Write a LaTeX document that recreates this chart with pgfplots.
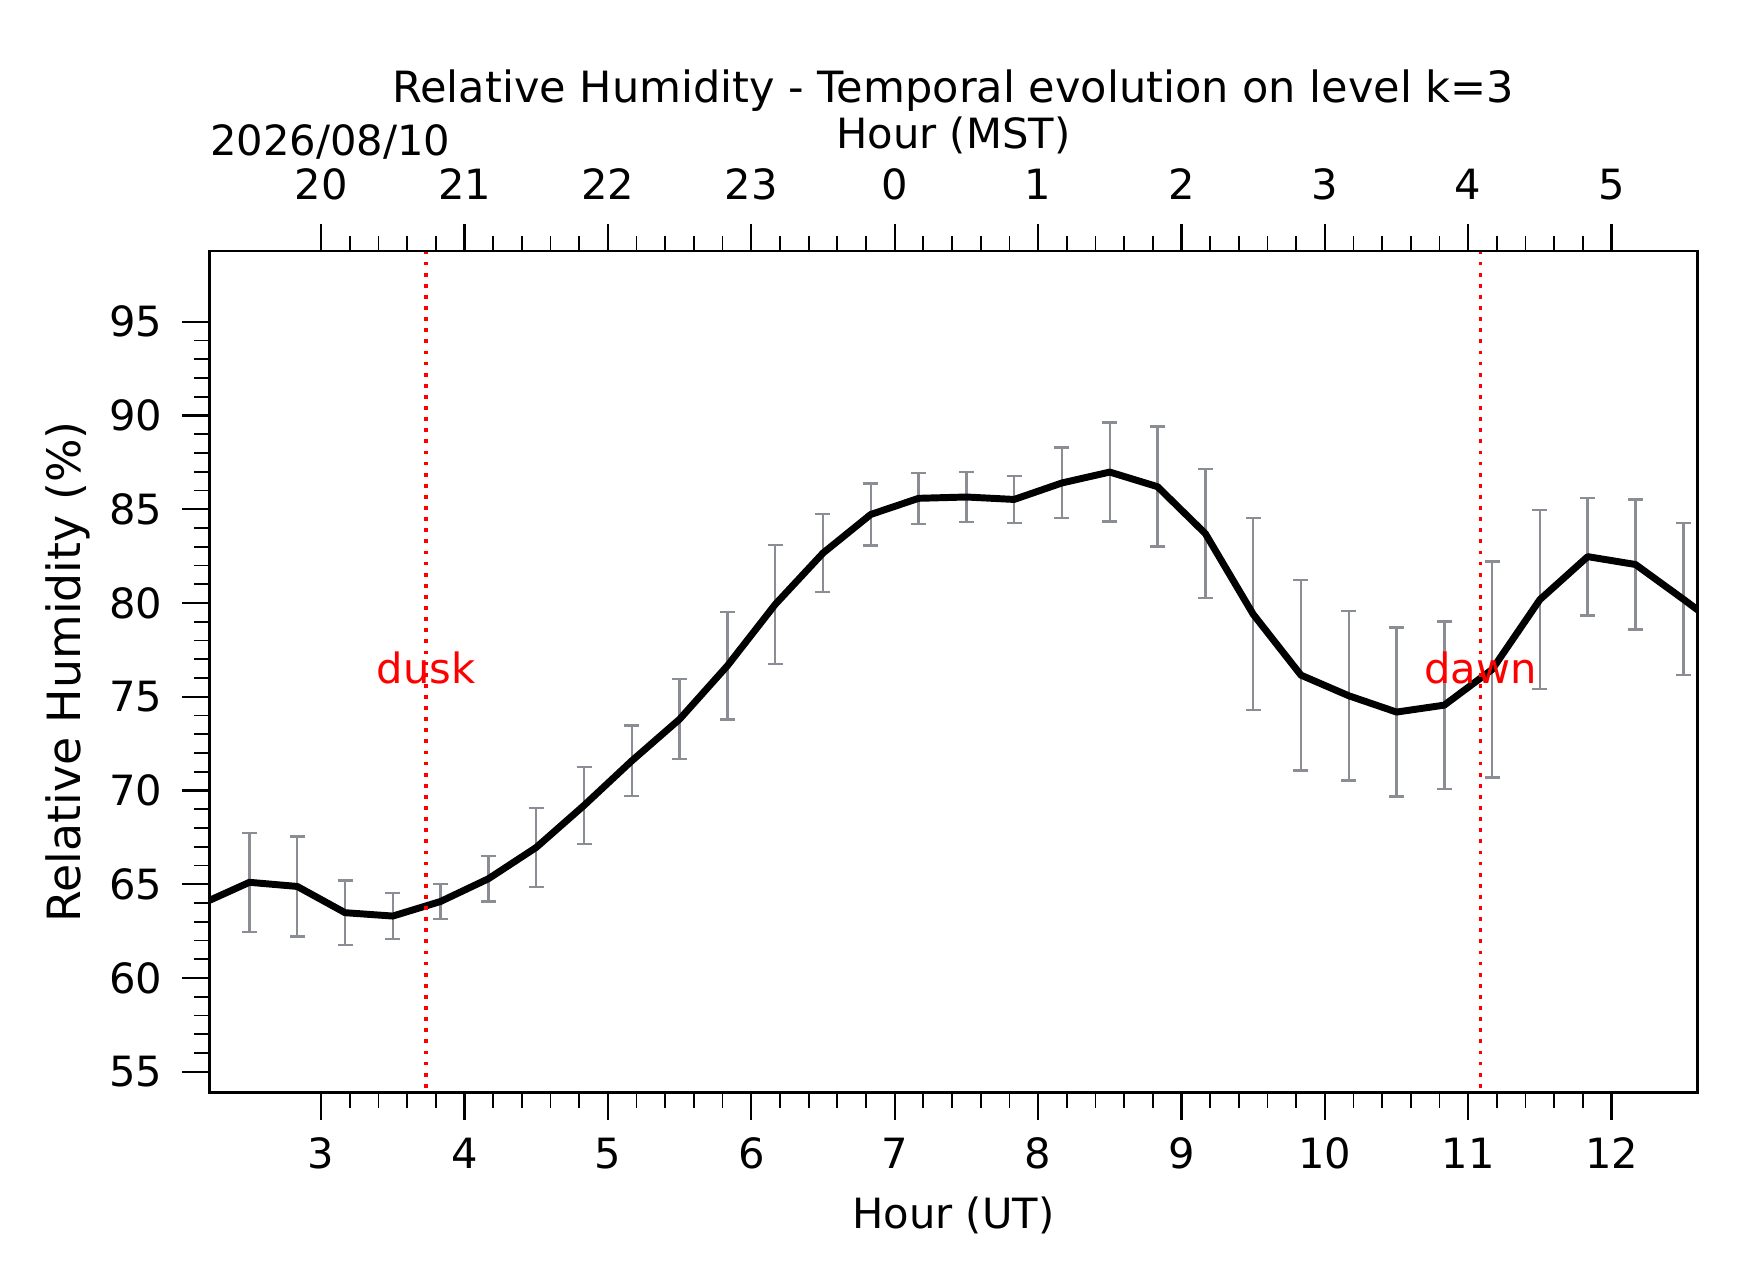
\documentclass[border=0pt]{standalone}
\usepackage{fontspec}
\setmainfont{DejaVu Sans}
\usepackage{pgfplots}
\pgfplotsset{compat=1.18}
\usepackage{pgfplotstable}
\definecolor{errgray}{RGB}{138,141,147}

\pgfplotstableread{
x y
2.1667 63.95
2.5 65.10
2.8333 64.88
3.1667 63.48
3.5 63.30
3.8333 64.08
4.1667 65.29
4.5 66.96
4.8333 69.20
5.1667 71.58
5.5 73.80
5.8333 76.65
6.1667 79.92
6.5 82.66
6.8333 84.72
7.1667 85.58
7.5 85.65
7.8333 85.52
8.1667 86.40
8.5 86.98
8.8333 86.20
9.1667 83.70
9.5 79.40
9.8333 76.15
10.1667 75.05
10.5 74.18
10.8333 74.55
11.1667 76.45
11.5 80.18
11.8333 82.47
12.1667 82.05
12.5 80.20
12.8333 78.30
}\linetab

\pgfplotstableread{
x y e
2.5 65.10 2.64
2.8333 64.88 2.67
3.1667 63.48 1.71
3.5 63.30 1.22
3.8333 64.08 0.93
4.1667 65.29 1.22
4.5 66.96 2.10
4.8333 69.20 2.05
5.1667 71.58 1.88
5.5 73.80 2.13
5.8333 76.65 2.87
6.1667 79.92 3.17
6.5 82.66 2.07
6.8333 84.72 1.66
7.1667 85.58 1.36
7.5 85.65 1.34
7.8333 85.52 1.25
8.1667 86.40 1.88
8.5 86.98 2.64
8.8333 86.20 3.20
9.1667 83.70 3.44
9.5 79.40 5.12
9.8333 76.15 5.08
10.1667 75.05 4.52
10.5 74.18 4.50
10.8333 74.55 4.46
11.1667 76.45 5.76
11.5 80.18 4.77
11.8333 82.47 3.14
12.1667 82.05 3.46
12.5 80.20 4.05
}\errtab

\begin{document}
\begin{tikzpicture}[font=\fontsize{12}{14}\selectfont]
\pgfplotsset{
 common/.style={
  at={(0,0)}, anchor=south west,
  scale only axis, width=428.5pt, height=242.4pt,
  xmin=2.2205, xmax=12.597,
  tick align=outside,
  major tick length=7.8pt, minor tick length=4.3pt,
  major tick style={black, line width=0.65pt},
  minor tick style={black, line width=0.5pt},
  axis line style={black, line width=0.75pt},
  minor x tick num=4,
  xtick={3,...,12},
  /pgf/number format/assume math mode=true,
 }
}
\begin{axis}[common,
  ymin=53.88, ymax=98.77,
  ytick={55,60,...,95}, minor y tick num=4,
  xtick pos=left, ytick pos=left,
  xticklabel style={anchor=base, inner sep=0pt, yshift=-14.1pt},
  yticklabel style={anchor=east, inner sep=0pt, xshift=-5.5pt},
]
\addplot[draw=none, mark=none, forget plot,
  error bars/.cd, y dir=both, y explicit, error mark=-,
  error bar style={draw=errgray, line width=0.7pt, solid},
  error mark options={rotate=90, draw=errgray, line width=0.7pt, mark size=2.16pt}]
  table[x=x, y=y, y error=e] {\errtab};
\addplot[black, line width=2pt, line join=round, mark=none] table[x=x, y=y] {\linetab};
\addplot[red, line width=1.1pt, dash pattern=on 1.1pt off 2.1pt, forget plot] coordinates {(3.733,50) (3.733,100)};
\addplot[red, line width=1.1pt, dash pattern=on 1.1pt off 2.1pt, forget plot] coordinates {(11.085,50) (11.085,100)};
\node[red, anchor=base, inner sep=0pt] at (axis cs:3.733,75.72) {dusk};
\node[red, anchor=base, inner sep=0pt] at (axis cs:11.085,75.72) {dawn};
\end{axis}
\begin{axis}[common,
  ymin=0, ymax=1,
  axis x line*=top, axis y line=none,
  xticklabels={20,21,22,23,0,1,2,3,4,5},
  xticklabel style={anchor=base, inner sep=0pt, yshift=6.9pt},
]
\end{axis}
\node[anchor=base, inner sep=0pt, font=\fontsize{12.4}{14}\selectfont] at (214.25pt,285.3pt) {Relative Humidity - Temporal evolution on level k=3};
\node[anchor=base, inner sep=0pt] at (214.25pt,271.8pt) {Hour (MST)};
\node[anchor=base west, inner sep=0pt] at (0pt,269.8pt) {2026/08/10};
\node[anchor=base, inner sep=0pt] at (214.25pt,-39.2pt) {Hour (UT)};
\node[anchor=base, inner sep=0pt, rotate=90, font=\fontsize{13.2}{15}\selectfont] at (-37.2pt,121.2pt) {Relative Humidity (\%)};
\pgfresetboundingbox
\path[use as bounding box] (-60.3pt,-54.5pt) rectangle (441.4pt,314.7pt);
\end{tikzpicture}
\end{document}
